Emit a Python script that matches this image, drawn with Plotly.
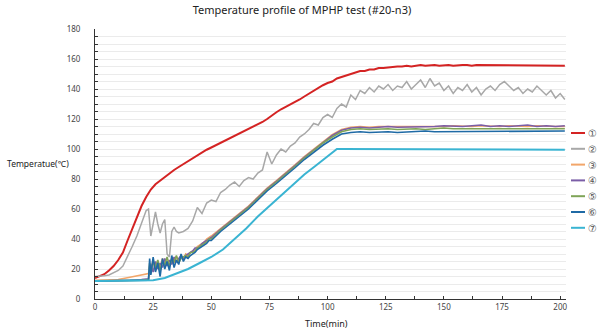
import plotly.graph_objects as go

# ---------------- data ----------------
t_red = list(range(0, 204, 2))
red = [14, 15, 16.5, 19, 22, 26, 31, 39, 47, 55, 62, 68, 73, 76.5, 79, 81.5, 84, 86, 88, 90, 91.5,
       93.5, 95.5, 97.5, 99.5, 101, 102.5, 104, 105.5, 107, 108.5, 110, 111.5, 113, 114.5, 116, 118, 120, 122.5, 124.5,
       126.5, 128, 130, 131.5, 133, 135, 137, 139, 141, 142.5, 144, 145, 147, 148, 149, 150, 151, 152, 152,
       153, 153, 154, 154, 154.5, 155, 155, 155, 155.5, 155, 155.5, 156, 155.5, 156, 156, 155.5, 156, 156, 155.5,
       156, 156, 156, 155.5, 156, 156, 156, 155.5, 156, 156, 156, 155.5, 156, 156, 155.5, 156, 156, 155.5, 156,
       156, 155.5, 156, 155.5, 155.5]

t_gray = [0, 2, 4, 6, 8, 10, 12, 14, 16, 18, 20, 21, 22, 23, 24, 25, 26, 27, 28, 29, 30, 31, 32, 33, 34, 35] + list(range(36, 204, 2))
gray = [15, 15, 15.5, 16, 17.5, 19, 22, 28, 35, 42, 51, 56, 59, 60, 42, 50, 58, 50, 44, 50, 53, 30, 28, 45, 48, 45,
        44, 45, 47, 52, 61, 57, 64, 66, 65, 71, 73, 76, 78, 75, 79, 81, 80, 84, 86, 98, 90, 96, 100, 98, 102, 104,
        108, 110, 113, 117, 116, 121, 123, 121, 127, 130, 128, 136, 133, 139, 137, 141, 138, 142, 140, 143, 139,
        142, 141, 145, 140, 143, 146, 141, 147, 142, 144, 139, 142, 137, 141, 139, 143, 138, 141, 136, 140, 142,
        139, 143, 145, 142, 139, 141, 137, 140, 138, 142, 139, 136, 139, 134, 137, 133]

t_grp = [0, 5, 10, 15, 20, 23, 23.5] + list(range(24, 51)) + list(range(54, 203, 4))
s3 = [12.5, 12.5, 13, 14.5, 16, 17, 22,
      20, 26, 19, 24, 21, 27, 22, 25, 23, 27, 24, 28, 26, 28, 27, 30, 29, 31, 32, 33, 35, 36, 37, 38, 40, 41, 42,
      47, 52, 57, 62, 68, 74, 79, 84, 89.5, 95, 100, 105, 109.5, 113, 114.5, 115, 114.5,
      115, 115, 114.5, 115, 115, 114.5, 115, 115, 115.5, 115, 115, 115.5, 115, 115, 115.5, 115, 115, 115.5, 115,
      115, 115]
s4 = [12, 12, 12, 12.5, 13, 13.5, 19,
      23, 18, 25, 20, 24, 21, 27, 22, 26, 23, 28, 25, 27, 29, 27, 29, 30, 31, 32, 34, 34, 35, 37, 38, 39, 40, 41,
      46.5, 51.5, 56.5, 61.5, 67.5, 73.5, 78.5, 83.5, 89, 94.5, 99.5, 104.5, 109, 112.5, 114, 114.5, 114, 114.5,
      115, 114.5, 114.5, 115, 114.5, 115, 115.5, 115, 115, 115.5, 116, 115, 115.5, 115, 115.5, 116, 115, 115.5,
      115, 115.5]
s5 = [12, 12, 12, 12, 12.5, 13, 24,
      17, 25, 21, 26, 19, 25, 23, 28, 22, 26, 25, 29, 24, 27, 28, 29, 28, 31, 31, 32, 34, 35, 36, 37, 38, 40, 40,
      46, 51, 56, 61, 67, 73, 78, 83, 88.5, 94, 99, 104, 108, 111.5, 113, 113.5, 113, 113.5, 113.5, 113,
      113.5, 113.5, 113, 113.5, 114, 113.5, 113.5, 114, 113.5, 113.5, 114, 113.5, 113.5, 114, 113.5, 113.5,
      113.5, 113.5]
s6 = [12, 12, 12, 12, 12, 12.5, 27,
      16, 28, 18, 24, 15, 27, 20, 25, 19, 29, 21, 26, 23, 30, 25, 28, 27, 29, 30, 31, 33, 34, 35, 36, 37, 39, 39,
      45, 50, 55, 60, 66, 72, 77, 82, 87.5, 93, 98, 102.5, 106.5, 110, 111, 111.5, 111, 111.5, 111.5,
      111, 111.5, 111.5, 112, 111.5, 111.5, 112, 111.5, 112, 112, 111.5, 112, 112, 111.5, 112, 112, 111.5,
      112, 112]

t_cyan = [0, 10, 20, 23, 25, 30, 35, 40, 45, 50, 55, 60, 65, 70, 75, 80, 85, 90, 95, 100, 104, 106] + list(range(110, 203, 4))
cyan = [12, 12, 12, 12, 12.5, 14, 17, 20, 24, 28, 33, 40, 47, 55, 62, 69, 76, 83, 89, 95, 100, 100,
        100, 99.5, 100, 100, 99.5, 100, 100, 100, 99.5, 100, 100, 100, 99.5, 100, 100, 100, 99.5, 100, 100,
        100, 99.5, 100, 100, 99.5]

names = ["①", "②", "③", "④", "⑤", "⑥", "⑦"]
colors = ["#d42323", "#a8a8a8", "#f2a66a", "#7b5ea7", "#7fa457", "#1f6aa5", "#3ab4d2"]
widths = [2, 1.5, 1.6, 1.6, 1.6, 1.6, 2]
series_t = [t_red, t_gray, t_grp, t_grp, t_grp, t_grp, t_cyan]
series_y = [red, gray, s3, s4, s5, s6, cyan]

x_ticks = [0, 25, 50, 75, 100, 125, 150, 175, 200]
y_ticks = [0, 20, 40, 60, 80, 100, 120, 140, 160, 180]

# ---------------- figure ----------------
fig = go.Figure()
for n, c, w, tx, ty in zip(names, colors, widths, series_t, series_y):
    fig.add_trace(go.Scatter(x=tx, y=ty, mode="lines", name=n,
                             line=dict(color=c, width=w), showlegend=False))

W, H = 604, 329
L, R, T, B = 95, 38, 29, 30
pw, ph = W - L - R, H - T - B
font = "Noto Sans, DejaVu Sans, sans-serif"

fig.update_layout(
    width=W, height=H,
    margin=dict(l=L, r=R, t=T, b=B),
    paper_bgcolor="white", plot_bgcolor="white",
    title=dict(text="Temperature profile of MPHP test (#20-n3)", x=0.5, xref="container",
               y=1 - 10 / H, yanchor="middle", yref="container",
               font=dict(family=font, size=11, color="#222")),
    font=dict(family=font, size=8, color="#444"),
    xaxis=dict(range=[0, 202.5], tickvals=x_ticks, showgrid=False, zeroline=False,
               showline=True, linecolor="#333", linewidth=1,
               ticks="inside", ticklen=3, tickcolor="#333",
               minor=dict(dtick=12.5, ticks="inside", ticklen=3, tickcolor="#333"),
               tickfont=dict(size=8, color="#444")),
    yaxis=dict(range=[0, 180], tickvals=y_ticks, showgrid=True, gridcolor="#ebebeb",
               zeroline=False, showline=True, linecolor="#333", linewidth=1,
               ticks="inside", ticklen=3, tickcolor="#333", ticklabelstandoff=12,
               minor=dict(dtick=5, showgrid=True, gridcolor="#ebebeb", ticks="inside",
                          ticklen=3, tickcolor="#333"),
               tickfont=dict(size=8, color="#444")),
)

# axis titles
fig.add_annotation(text="Temperatue(℃)", xref="paper", yref="paper",
                   x=(5 - L) / pw, y=(H - B - 163) / ph, xanchor="left", yanchor="middle",
                   showarrow=False, font=dict(family=font, size=8.5, color="#222"))
fig.add_annotation(text="Time(min)", xref="paper", yref="paper",
                   x=(326 - L) / pw, y=(H - B - 323) / ph, xanchor="center", yanchor="middle",
                   showarrow=False, font=dict(family=font, size=9, color="#222"))

# legend (drawn manually to fit the narrow right margin)
for i, (n, c) in enumerate(zip(names, colors)):
    ypx = 133 + 15.8 * i
    yp = (H - B - ypx) / ph
    fig.add_shape(type="line", xref="paper", yref="paper",
                  x0=(571 - L) / pw, x1=(585 - L) / pw, y0=yp, y1=yp,
                  line=dict(color=c, width=2))
    fig.add_annotation(text=n, xref="paper", yref="paper", x=(586 - L) / pw, y=yp,
                       xanchor="left", yanchor="middle", showarrow=False,
                       font=dict(family=font, size=10, color="#555"))

fig.write_html("out.html")
